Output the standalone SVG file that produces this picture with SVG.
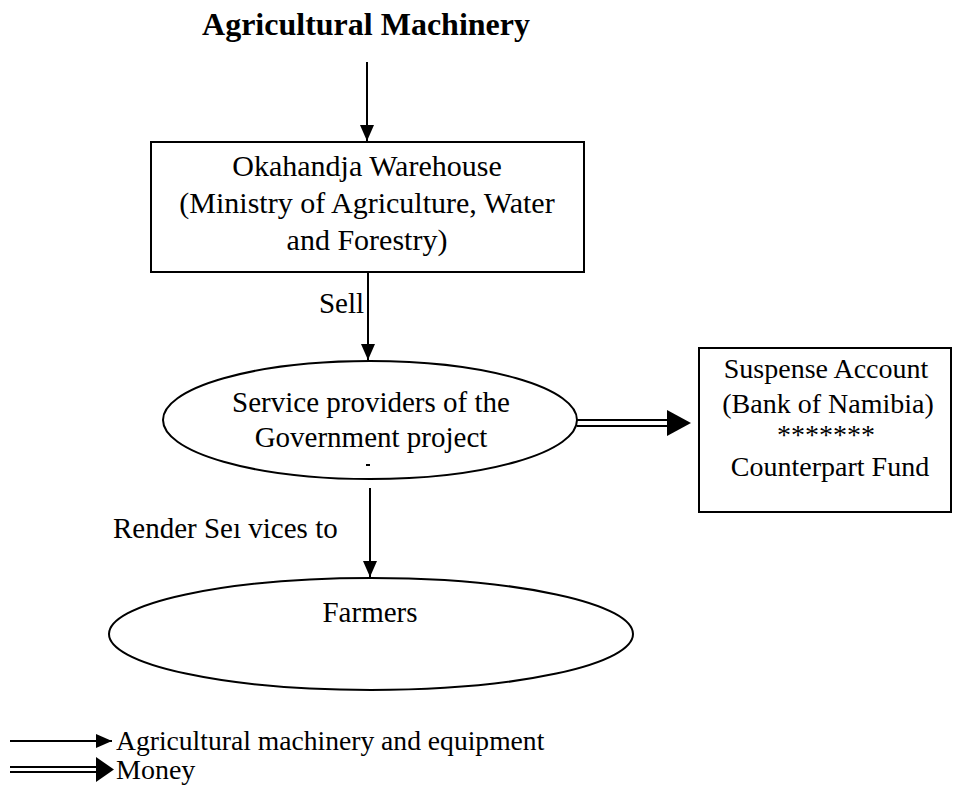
<svg xmlns="http://www.w3.org/2000/svg" width="955" height="791" viewBox="0 0 955 791">
  <style>
    .txt { font-family: "Liberation Serif", "Times New Roman", serif; font-size: 29px; fill: #000; }
    .title { font-family: "Liberation Serif", "Times New Roman", serif; font-size: 32px; font-weight: bold; fill: #000; }
    .shape { fill: #fff; stroke: #000; stroke-width: 2; }
    .flow { stroke: #000; stroke-width: 2; fill: none; }
    .head { fill: #000; stroke: none; }
  </style>
  <defs>
    <marker id="tri" markerUnits="userSpaceOnUse" markerWidth="16" markerHeight="16" viewBox="0 0 16 16" refX="16" refY="8" orient="auto">
      <path d="M0,1 L16,8 L0,15 Z" fill="#000"/>
    </marker>
  </defs>

  <rect width="955" height="791" fill="#fff"/>

  <g id="title">
    <text class="title" x="366" y="35" text-anchor="middle">Agricultural Machinery</text>
  </g>

  <g id="warehouse">
    <rect class="shape" x="151" y="142" width="433" height="130"/>
    <text class="txt" x="367" y="176" text-anchor="middle" style="font-size:30px">Okahandja Warehouse</text>
    <text class="txt" x="367" y="213" text-anchor="middle" style="font-size:30px">(Ministry of Agriculture, Water</text>
    <text class="txt" x="367" y="250" text-anchor="middle" style="font-size:30px">and Forestry)</text>
  </g>

  <g id="providers">
    <ellipse class="shape" cx="370" cy="420" rx="207" ry="59"/>
    <text class="txt" x="371" y="412" text-anchor="middle">Service providers of the</text>
    <text class="txt" x="371" y="447" text-anchor="middle">Government project</text>
    <line x1="366" y1="465" x2="370" y2="465" stroke="#000" stroke-width="2"/>
  </g>

  <g id="suspense">
    <rect class="shape" x="699" y="348" width="252" height="164"/>
    <text class="txt" x="826" y="378" text-anchor="middle" style="font-size:28px">Suspense Account</text>
    <text class="txt" x="828" y="413" text-anchor="middle" style="font-size:28px">(Bank of Namibia)</text>
    <text class="txt" x="826" y="444" text-anchor="middle" style="font-size:28px">*******</text>
    <text class="txt" x="830" y="476" text-anchor="middle" style="font-size:28px">Counterpart Fund</text>
  </g>

  <g id="farmers">
    <ellipse class="shape" cx="371" cy="634" rx="262" ry="56"/>
    <text class="txt" x="370" y="622" text-anchor="middle">Farmers</text>
  </g>

  <g id="connectors">
    <line class="flow" x1="367" y1="62" x2="367" y2="141" marker-end="url(#tri)"/>
    <line class="flow" x1="368" y1="272" x2="368" y2="360" marker-end="url(#tri)"/>
    <text class="txt" x="364" y="313" text-anchor="end">Sell</text>
    <line class="flow" x1="370" y1="488" x2="370" y2="577" marker-end="url(#tri)"/>
    <text class="txt" x="113" y="538">Render Seı vices to</text>
    <!-- money transfer: double shaft with solid head -->
    <line class="flow" x1="577" y1="420" x2="670" y2="420"/>
    <line class="flow" x1="577" y1="426" x2="670" y2="426"/>
    <path class="head" d="M667,410 L691,423 L667,436 Z"/>
  </g>

  <g id="legend">
    <line class="flow" x1="10" y1="741" x2="112" y2="741" marker-end="url(#tri)"/>
    <text class="txt" x="116" y="750" style="font-size:27.6px">Agricultural machinery and equipment</text>
    <line class="flow" x1="10" y1="767" x2="98" y2="767"/>
    <line class="flow" x1="10" y1="772" x2="98" y2="772"/>
    <path class="head" d="M96,757 L114,769.5 L96,782 Z"/>
    <text class="txt" x="116" y="779" style="font-size:28px">Money</text>
  </g>
</svg>
